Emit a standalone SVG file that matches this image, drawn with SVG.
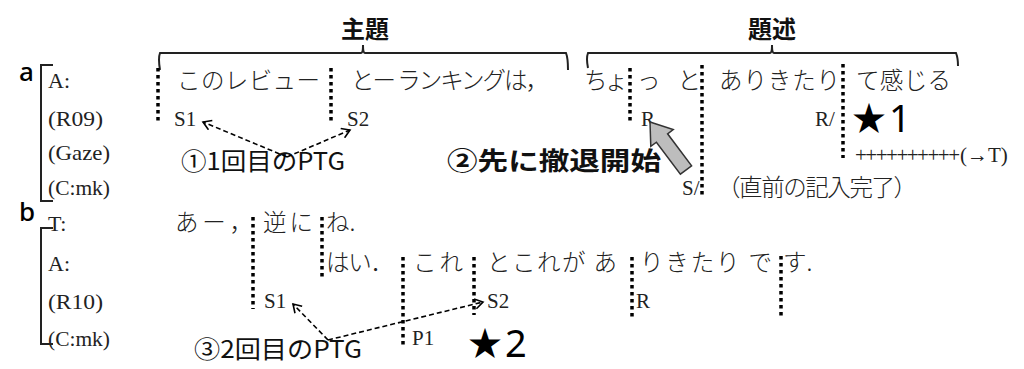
<svg xmlns="http://www.w3.org/2000/svg" width="1024" height="369" viewBox="0 0 1024 369">
<defs>
<style>
.lab{font-family:"Liberation Serif","Noto Sans CJK JP",serif;font-size:22px;fill:#222}
.jp{font-family:"Noto Sans CJK JP",sans-serif;font-size:23.5px;font-weight:300;fill:#222}
.ser{font-family:"Liberation Serif","Noto Sans CJK JP",serif;font-size:21px;fill:#222}
.big{font-family:"Noto Sans CJK JP",sans-serif;font-size:24px;fill:#111}
.bold{font-family:"Noto Sans CJK JP",sans-serif;font-weight:700;fill:#111}
.star{font-family:"Noto Sans CJK JP",sans-serif;font-size:34px;fill:#000}
.ab{font-family:"Noto Sans","Liberation Sans",sans-serif;font-size:26px;font-weight:500;fill:#000}
.dot{stroke:#000;stroke-width:3.5;stroke-dasharray:3.5 3.5;fill:none}
.br{stroke:#222;stroke-width:2;fill:none}
.dash{stroke:#000;stroke-width:1.6;stroke-dasharray:5 3;fill:none;marker-end:url(#open)}
</style>
<marker id="open" viewBox="0 0 12 12" refX="10" refY="6" markerWidth="12" markerHeight="12" markerUnits="userSpaceOnUse" orient="auto">
<polyline points="2,1 10,6 2,11" fill="none" stroke="#000" stroke-width="1.6"/>
</marker>
</defs>
<rect width="1024" height="369" fill="#fff"/>

<g id="headers">
<text class="bold" x="365" y="38" font-size="24" text-anchor="middle">主題</text>
<text class="bold" x="772" y="38" font-size="24" text-anchor="middle">題述</text>
<path class="br" d="M160,70 Q158,58 160,53 L361,53 Q363,53 363,45 Q363,53 365,53 L566,53 Q568,58 568,70"/>
<path class="br" d="M588,68 Q586,58 588,53 L770,53 Q772,53 772,45 Q772,53 774,53 L956,53 Q958,58 958,66"/>
</g>

<g id="panel-a">
<text class="ab" x="19" y="81">a</text>
<path class="br" d="M53,65 L41,65 L41,201 L53,201"/>
<text class="lab" x="48" y="88">A:</text>
<text class="lab" x="48" y="126" textLength="55" lengthAdjust="spacingAndGlyphs">(R09)</text>
<text class="lab" x="48" y="160" textLength="62" lengthAdjust="spacingAndGlyphs">(Gaze)</text>
<text class="lab" x="48" y="195" textLength="62" lengthAdjust="spacingAndGlyphs">(C:mk)</text>

<text class="jp" x="177" y="89" textLength="143" lengthAdjust="spacing">このレビュー</text>
<text class="jp" x="351" y="89" textLength="198" lengthAdjust="spacing">とー ランキングは，</text>
<text class="jp" x="584" y="89" textLength="44" lengthAdjust="spacing">ちょ</text>
<text class="jp" x="637" y="89" textLength="64" lengthAdjust="spacing">っと</text>
<text class="jp" x="719" y="89" textLength="121" lengthAdjust="spacing">ありきたり</text>
<text class="jp" x="856" y="89" textLength="95" lengthAdjust="spacing">て感じる</text>

<text class="ser" x="174" y="126">S1</text>
<text class="ser" x="347" y="126">S2</text>
<text class="ser" x="641" y="126">R</text>
<text class="ser" x="815" y="126">R/</text>
<text class="star" x="852" y="131">★</text>
<text x="889" y="132" font-family="Noto Sans,Liberation Sans,sans-serif" font-size="38" fill="#000">1</text>
<text class="ser" x="855" y="162" font-size="22" textLength="105" lengthAdjust="spacing">++++++++++</text>
<text class="ser" x="960" y="162" font-size="22">(→T)</text>
<text class="ser" x="682" y="195">S/</text>
<text class="jp" x="717" y="196" textLength="200" lengthAdjust="spacing">（直前の記入完了）</text>

<text class="big" x="181" y="170" textLength="164" lengthAdjust="spacingAndGlyphs">①1回目のPTG</text>
<text class="bold" x="447" y="170" font-size="25" textLength="214" lengthAdjust="spacingAndGlyphs">②先に撤退開始</text>
<path id="grayarrow" d="M650,122 L673.2,129.6 L667.6,133.8 L691.6,165.8 L680.4,174.2 L656.4,142.2 L650.8,146.4 Z" fill="#bdbdbd" stroke="#333" stroke-width="1.5" stroke-linejoin="miter"/>
</g>

<g id="panel-b">
<text class="ab" x="19" y="221">b</text>
<path class="br" d="M53,228 L41,228 L41,344 L53,344"/>
<text class="lab" x="48" y="231">T:</text>
<text class="lab" x="48" y="271">A:</text>
<text class="lab" x="48" y="309" textLength="55" lengthAdjust="spacingAndGlyphs">(R10)</text>
<text class="lab" x="48" y="346" textLength="62" lengthAdjust="spacingAndGlyphs">(C:mk)</text>

<text class="jp" x="175" y="231" textLength="78" lengthAdjust="spacing">あー，</text>
<text class="jp" x="263" y="231" textLength="50" lengthAdjust="spacing">逆に</text>
<text class="jp" x="326" y="231">ね.</text>
<text class="jp" x="326" y="271" textLength="68" lengthAdjust="spacing">はい．</text>
<text class="jp" x="413" y="271" textLength="50" lengthAdjust="spacing">これ</text>
<text class="jp" x="487" y="271" textLength="130" lengthAdjust="spacing">とこれが あ</text>
<text class="jp" x="640" y="271" textLength="132" lengthAdjust="spacing">りきたり で</text>
<text class="jp" x="783" y="271">す.</text>

<text class="ser" x="264" y="308">S1</text>
<text class="ser" x="487" y="308">S2</text>
<text class="ser" x="636" y="308">R</text>
<text class="ser" x="412" y="345">P1</text>
<text class="big" x="194" y="358" textLength="168" lengthAdjust="spacingAndGlyphs">③2回目のPTG</text>
<text class="star" x="468" y="356">★</text>
<text x="505" y="357" font-family="Noto Sans,Liberation Sans,sans-serif" font-size="38" fill="#000">2</text>
</g>

<g id="connectors">
<line class="dot" x1="158" y1="68" x2="158" y2="123"/>
<line class="dot" x1="331" y1="68" x2="331" y2="123"/>
<line class="dot" x1="630" y1="68" x2="630" y2="123"/>
<line class="dot" x1="702" y1="65" x2="702" y2="196"/>
<line class="dot" x1="843" y1="64" x2="843" y2="158"/>
<line class="dot" x1="253" y1="217" x2="253" y2="309"/>
<line class="dot" x1="322" y1="217" x2="322" y2="279"/>
<line class="dot" x1="403" y1="257" x2="403" y2="347"/>
<line class="dot" x1="474" y1="257" x2="474" y2="315"/>
<line class="dot" x1="632" y1="257" x2="632" y2="318"/>
<line class="dot" x1="781" y1="256" x2="781" y2="316"/>
<path class="dash" d="M287,157 L203,122"/>
<path class="dash" d="M287,157 L350,130"/>
<path class="dash" d="M328,340 L293,304"/>
<path class="dash" d="M328,340 L483,302"/>
</g>
</svg>
